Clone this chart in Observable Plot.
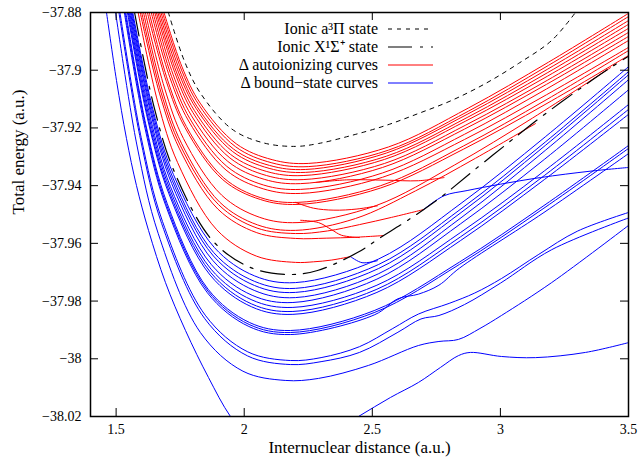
<!DOCTYPE html>
<html><head><meta charset="utf-8">
<script src="https://cdn.jsdelivr.net/npm/d3@7"></script>
<script src="https://cdn.jsdelivr.net/npm/@observablehq/plot@0.6"></script>
<style>
body{margin:0;background:#fff;}
#wrap{position:relative;width:638px;height:464px;}
#legend{position:absolute;left:0;top:0;pointer-events:none;}
</style></head><body>
<div id="wrap"></div>
<script>
const xTicks = [1.5, 2, 2.5, 3, 3.5];
const yTicks = [-37.88, -37.9, -37.92, -37.94, -37.96, -37.98, -38, -38.02];

const ionicA3Pi = [[1.704,-37.88],[1.766,-37.8967],[1.828,-37.9078],[1.952,-37.9204],[2.076,-37.9252],[2.2,-37.9264],[2.29,-37.9254],[2.419,-37.9226],[2.551,-37.9192],[2.68,-37.915],[2.809,-37.9105],[2.942,-37.9046],[3.07,-37.8977],[3.2,-37.8897],[3.293,-37.88]];

const ionicX1Sigma = [[1.572,-37.88],[1.648,-37.9127],[1.724,-37.9345],[1.876,-37.959],[2.028,-37.9685],[2.18,-37.9708],[2.286,-37.9694],[2.442,-37.9632],[2.532,-37.958],[2.637,-37.9521],[2.766,-37.9441],[2.895,-37.9348],[3.067,-37.9226],[3.156,-37.9164],[3.301,-37.907],[3.43,-37.8991],[3.5,-37.8952]];

const autoionizingCurves = [
 [[1.687,-37.88],[1.757,-37.8988],[1.828,-37.9114],[1.969,-37.9255],[2.109,-37.931],[2.25,-37.9323],[2.563,-37.9266],[2.875,-37.9131],[3.188,-37.8972],[3.5,-37.8803]],
 [[1.681,-37.88],[1.752,-37.8992],[1.823,-37.912],[1.966,-37.9265],[2.108,-37.9321],[2.25,-37.9334],[2.563,-37.9277],[2.875,-37.9142],[3.188,-37.8983],[3.5,-37.8814]],
 [[1.675,-37.88],[1.746,-37.8996],[1.816,-37.9126],[1.958,-37.9273],[2.099,-37.933],[2.24,-37.9344],[2.555,-37.9287],[2.87,-37.9153],[3.185,-37.8996],[3.5,-37.8828]],
 [[1.669,-37.88],[1.74,-37.8999],[1.812,-37.9132],[1.955,-37.9282],[2.097,-37.934],[2.24,-37.9354],[2.555,-37.9298],[2.87,-37.9164],[3.185,-37.9008],[3.5,-37.8841]],
 [[1.663,-37.88],[1.734,-37.9003],[1.805,-37.9139],[1.947,-37.9292],[2.088,-37.9351],[2.23,-37.9365],[2.548,-37.9309],[2.865,-37.9176],[3.183,-37.9021],[3.5,-37.8855]],
 [[1.657,-37.88],[1.729,-37.9008],[1.8,-37.9147],[1.944,-37.9304],[2.087,-37.9365],[2.23,-37.9379],[2.548,-37.9323],[2.865,-37.919],[3.183,-37.9035],[3.5,-37.8869]],
 [[1.651,-37.88],[1.722,-37.9014],[1.793,-37.9156],[1.936,-37.9316],[2.078,-37.9378],[2.22,-37.9393],[2.54,-37.9337],[2.86,-37.9204],[3.18,-37.9049],[3.5,-37.8883]],
 [[1.644,-37.88],[1.716,-37.9021],[1.788,-37.9168],[1.932,-37.9333],[2.076,-37.9398],[2.22,-37.9413],[2.54,-37.9356],[2.86,-37.9222],[3.18,-37.9065],[3.5,-37.8897]],
 [[1.637,-37.88],[1.71,-37.9026],[1.783,-37.9176],[1.929,-37.9346],[2.074,-37.9411],[2.22,-37.9427],[2.54,-37.9371],[2.86,-37.924],[3.18,-37.9085],[3.5,-37.8921]],
 [[1.629,-37.88],[1.702,-37.9037],[1.774,-37.9195],[1.92,-37.9373],[2.065,-37.9442],[2.21,-37.9458],[2.533,-37.94],[2.855,-37.9263],[3.178,-37.9103],[3.5,-37.8932]],
 [[1.622,-37.88],[1.696,-37.9039],[1.769,-37.9199],[1.916,-37.9379],[2.063,-37.9448],[2.21,-37.9465],[2.533,-37.9408],[2.855,-37.9274],[3.178,-37.9117],[3.5,-37.8949]],
 [[1.614,-37.88],[1.689,-37.9062],[1.763,-37.9237],[1.912,-37.9433],[2.061,-37.951],[2.21,-37.9528],[2.515,-37.9469],[2.82,-37.9329],[3.125,-37.9166],[3.43,-37.8991]],
 [[1.607,-37.88],[1.681,-37.9072],[1.755,-37.9253],[1.904,-37.9457],[2.052,-37.9536],[2.2,-37.9555],[2.434,-37.9514],[2.669,-37.9418],[2.903,-37.9305],[3.137,-37.9185]],
 [[1.6,-37.88],[1.675,-37.9076],[1.75,-37.926],[1.9,-37.9466],[2.05,-37.9547],[2.2,-37.9566],[2.325,-37.9557],[2.45,-37.9535],[2.575,-37.951],[2.7,-37.9483]],
 [[1.594,-37.88],[1.67,-37.9082],[1.746,-37.927],[1.897,-37.9481],[2.049,-37.9563],[2.2,-37.9583],[2.32,-37.9582],[2.43,-37.9579],[2.544,-37.9573]],
 [[1.586,-37.88],[1.663,-37.9112],[1.74,-37.932],[1.893,-37.9553],[2.047,-37.9644],[2.2,-37.9666],[2.27,-37.9664],[2.34,-37.9658],[2.415,-37.9646]],
 [[2.28,-37.9389],[2.4,-37.938],[2.55,-37.9381],[2.68,-37.9383],[2.78,-37.9372]],
 [[2.2,-37.9458],[2.27,-37.9478],[2.35,-37.9485],[2.44,-37.9481],[2.52,-37.947]],
 [[2.22,-37.952],[2.29,-37.9528],[2.34,-37.9552],[2.38,-37.9572],[2.45,-37.958]]
];

const boundCurves = [
 [[1.565,-37.88],[1.644,-37.9137],[1.724,-37.9362],[1.883,-37.9614],[2.041,-37.9713],[2.2,-37.9736],[2.525,-37.9654],[2.85,-37.9459],[3.175,-37.9231],[3.5,-37.8988]],
 [[1.562,-37.88],[1.642,-37.9144],[1.722,-37.9374],[1.881,-37.9632],[2.041,-37.9732],[2.2,-37.9756],[2.525,-37.9673],[2.85,-37.9478],[3.175,-37.9249],[3.5,-37.9005]],
 [[1.559,-37.88],[1.639,-37.9149],[1.719,-37.9382],[1.88,-37.9644],[2.04,-37.9746],[2.2,-37.977],[2.525,-37.9687],[2.85,-37.9491],[3.175,-37.9261],[3.5,-37.9016]],
 [[1.556,-37.88],[1.637,-37.9156],[1.717,-37.9393],[1.878,-37.966],[2.039,-37.9763],[2.2,-37.9788],[2.525,-37.9705],[2.85,-37.9509],[3.175,-37.9278],[3.5,-37.9033]],
 [[1.553,-37.88],[1.633,-37.9162],[1.712,-37.9403],[1.872,-37.9674],[2.031,-37.978],[2.19,-37.9805],[2.518,-37.9724],[2.845,-37.9532],[3.173,-37.9308],[3.5,-37.9068]],
 [[1.55,-37.88],[1.63,-37.9168],[1.71,-37.9413],[1.87,-37.9689],[2.03,-37.9796],[2.19,-37.9822],[2.518,-37.9745],[2.845,-37.9562],[3.173,-37.9348],[3.5,-37.9119]],
 [[1.547,-37.88],[1.627,-37.9173],[1.708,-37.9422],[1.869,-37.9701],[2.029,-37.981],[2.19,-37.9836],[2.518,-37.9759],[2.845,-37.9577],[3.173,-37.9364],[3.5,-37.9136]],
 [[1.544,-37.88],[1.625,-37.9177],[1.706,-37.9428],[1.867,-37.971],[2.029,-37.982],[2.19,-37.9846],[2.518,-37.977],[2.845,-37.959],[3.173,-37.9378],[3.5,-37.9153]],
 [[1.538,-37.88],[1.618,-37.9197],[1.699,-37.9461],[1.859,-37.9759],[2.02,-37.9874],[2.18,-37.9902],[2.51,-37.9832],[2.84,-37.9665],[3.17,-37.9469],[3.5,-37.9261]],
 [[1.535,-37.88],[1.616,-37.9199],[1.696,-37.9465],[1.858,-37.9765],[2.019,-37.9881],[2.18,-37.9909],[2.51,-37.9839],[2.84,-37.9673],[3.17,-37.9478],[3.5,-37.9271]],
 [[1.532,-37.88],[1.613,-37.9202],[1.694,-37.947],[1.856,-37.9771],[2.018,-37.9888],[2.18,-37.9916],[2.51,-37.9847],[2.6,-37.9792],[2.68,-37.9776],[2.76,-37.9745],[2.84,-37.9686],[3.17,-37.9493],[3.5,-37.9289]],
 [[1.515,-37.88],[1.598,-37.9234],[1.681,-37.9524],[1.848,-37.9849],[2.014,-37.9976],[2.18,-38.0006],[2.3,-37.9996],[2.45,-37.9958],[2.58,-37.9895],[2.68,-37.9845],[2.8,-37.9808],[2.9,-37.9772],[3.004,-37.9722],[3.15,-37.9638],[3.3,-37.9558],[3.5,-37.9493]],
 [[1.511,-37.88],[1.595,-37.9239],[1.678,-37.9532],[1.846,-37.9861],[2.013,-37.999],[2.18,-38.002],[2.3,-38.001],[2.45,-37.9978],[2.6,-37.9908],[2.69,-37.9862],[2.76,-37.985],[2.86,-37.9812],[3.0,-37.9738],[3.2,-37.9622],[3.5,-37.9512]],
 [[1.498,-37.88],[1.581,-37.9259],[1.664,-37.9565],[1.829,-37.9909],[1.995,-38.0043],[2.16,-38.0075],[2.29,-38.0068],[2.485,-38.0023],[2.68,-37.9954],[2.76,-37.994],[2.836,-37.9933],[2.92,-37.9895],[3.004,-37.985],[3.2,-37.9736],[3.5,-37.9538]],
 [[1.4625,-37.88],[1.5015,-37.9036],[1.5405,-37.9237],[1.5795,-37.94],[1.6264,-37.9555],[1.6927,-37.9736],[1.7708,-37.9902],[1.8606,-38.0065],[1.9464,-38.02],[2.044,-38.0304],[2.1806,-38.0318],[2.3172,-38.0269],[2.446,-38.02],[2.5709,-38.0134],[2.6802,-38.0082],[2.766,-38.003],[2.8363,-37.9989],[2.8831,-37.9978],[3.0041,-37.9992],[3.1368,-37.9996],[3.332,-37.9978],[3.5,-37.9944]],
 [[2.7,-37.9483],[2.78,-37.9435],[2.87,-37.9417],[3.0,-37.9395],[3.156,-37.9372],[3.35,-37.935],[3.5,-37.9337]],
 [[2.415,-37.9646],[2.46,-37.9667],[2.52,-37.966]]
];

const legendLabels = ["Ionic a\u00B3\u03A0 state", "Ionic X\u00B9\u03A3\u207A state", "\u0394 autoionizing curves", "\u0394 bound\u2212state curves"];

const W = 638, H = 464, mL = 90, mR = 10, mT = 12, mB = 48;
const fw = W - mL - mR, fh = H - mT - mB;
const rows = (curves, g) => curves.flatMap((c, i) => c.map(([x, y]) => ({x, y, id: g + i})));
const one = (c) => c.map(([x, y]) => ({x, y}));
const fmt = d => String(d).replace("-", "\u2212");
const serif = "'Liberation Serif', 'Times New Roman', serif";

const chart = Plot.plot({
  width: W, height: H,
  marginLeft: mL, marginRight: mR, marginTop: mT, marginBottom: mB,
  style: {fontFamily: serif, fontSize: "14px", color: "black", background: "white"},
  x: {domain: [1.4, 3.5]},
  y: {domain: [-38.02, -37.88]},
  marks: [
    Plot.line(rows(boundCurves, "b"), {x: "x", y: "y", z: "id", stroke: "#0000ff", strokeWidth: 1, curve: "catmull-rom", clip: true}),
    Plot.line(rows(autoionizingCurves, "r"), {x: "x", y: "y", z: "id", stroke: "#ff0000", strokeWidth: 1, curve: "catmull-rom", clip: true}),
    Plot.line(one(ionicX1Sigma), {x: "x", y: "y", stroke: "black", strokeWidth: 1.2, strokeDasharray: "24,8,3,8", curve: "catmull-rom", clip: true}),
    Plot.line(one(ionicA3Pi), {x: "x", y: "y", stroke: "black", strokeWidth: 1, strokeDasharray: "4,5", curve: "catmull-rom", clip: true}),
    Plot.tickX(xTicks, {x: d => d, insetTop: fh - 8, stroke: "black"}),
    Plot.tickX(xTicks, {x: d => d, insetBottom: fh - 8, stroke: "black"}),
    Plot.tickY(yTicks, {y: d => d, insetRight: fw - 8, stroke: "black"}),
    Plot.tickY(yTicks, {y: d => d, insetLeft: fw - 8, stroke: "black"}),
    Plot.axisX({ticks: xTicks, tickSize: 0, tickPadding: 8, label: null, tickFormat: d => String(d)}),
    Plot.axisY({ticks: yTicks, tickSize: 0, tickPadding: 9, label: null, tickFormat: fmt}),
    Plot.text(["Internuclear distance (a.u.)"], {text: d => d, frameAnchor: "bottom", dy: 36, fontSize: 17}),
    Plot.text(["Total energy (a.u.)"], {text: d => d, frameAnchor: "left", dx: -72, rotate: -90, fontSize: 17}),
    Plot.frame({stroke: "black", strokeWidth: 1.5})
  ]
});

const wrap = document.getElementById("wrap");
wrap.appendChild(chart);

// legend inside the frame (top right), as in the original figure
const ns = "http://www.w3.org/2000/svg";
const leg = document.createElementNS(ns, "svg");
leg.setAttribute("id", "legend");
leg.setAttribute("width", W);
leg.setAttribute("height", H);
const legendStyles = [
  {stroke: "black", width: 1, dash: "4,5"},
  {stroke: "black", width: 1.2, dash: "24,8,3,8"},
  {stroke: "#ff0000", width: 1, dash: null},
  {stroke: "#0000ff", width: 1, dash: null}
];
const legY = [29, 47, 65, 83];
legendLabels.forEach((label, i) => {
  const t = document.createElementNS(ns, "text");
  t.setAttribute("x", 378);
  t.setAttribute("y", legY[i] + 5);
  t.setAttribute("text-anchor", "end");
  t.setAttribute("font-family", "Liberation Serif, Times New Roman, serif");
  t.setAttribute("font-size", "16");
  t.setAttribute("fill", "black");
  t.textContent = label;
  leg.appendChild(t);
  const l = document.createElementNS(ns, "line");
  l.setAttribute("x1", 388); l.setAttribute("x2", 433);
  l.setAttribute("y1", legY[i]); l.setAttribute("y2", legY[i]);
  l.setAttribute("stroke", legendStyles[i].stroke);
  l.setAttribute("stroke-width", legendStyles[i].width);
  if (legendStyles[i].dash) l.setAttribute("stroke-dasharray", legendStyles[i].dash);
  leg.appendChild(l);
});
wrap.appendChild(leg);
</script>
</body></html>
